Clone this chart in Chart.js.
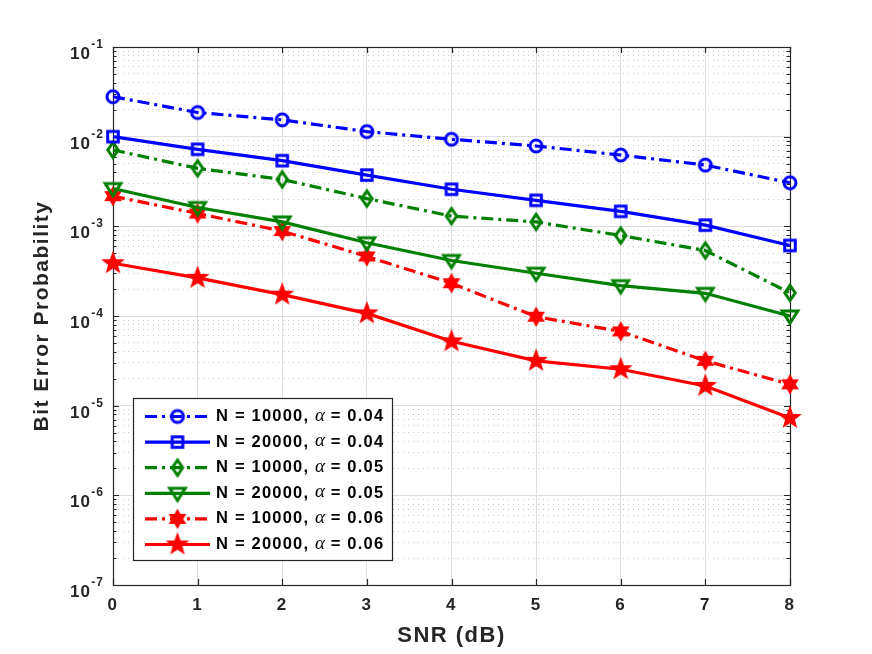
<!DOCTYPE html>
<html>
<head>
<meta charset="utf-8">
<script src="https://cdn.jsdelivr.net/npm/chart.js@4.4.1/dist/chart.umd.min.js"></script>
<style>
  html, body { margin: 0; padding: 0; background: #fff; }
  #wrap { width: 872px; height: 654px; }
</style>
</head>
<body>
<div id="wrap"><canvas id="ber" width="872" height="654"></canvas></div>
<script>
// SNR points (dB)
const snr = [0, 1, 2, 3, 4, 5, 6, 7, 8];

// bit error probability
const berN10kA004 = [0.0279, 0.0186, 0.0154, 0.0114, 0.00935, 0.00787, 0.00624, 0.00482, 0.00306];
const berN20kA004 = [0.0100, 0.00723, 0.0054, 0.00373, 0.00259, 0.00195, 0.00147, 0.00103, 0.000612];
const berN10kA005 = [0.0071, 0.00443, 0.00333, 0.00204, 0.0013, 0.00112, 0.00079, 0.000538, 0.000181];
const berN20kA005 = [0.00264, 0.00162, 0.00112, 0.000656, 0.000416, 0.0003, 0.000218, 0.000179, 0.0001];
const berN10kA006 = [0.00217, 0.00139, 0.000885, 0.000461, 0.000232, 0.0000982, 0.0000673, 0.0000316, 0.0000173];
const berN20kA006 = [0.000388, 0.000266, 0.000173, 0.000107, 0.0000522, 0.0000316, 0.0000255, 0.0000166, 0.0000073];

// legend text parts
const seriesN = ['10000', '20000', '10000', '20000', '10000', '20000'];
const seriesAlpha = ['0.04', '0.04', '0.05', '0.05', '0.06', '0.06'];

// y axis decades (exponents) and minor tick mantissas
const yExponents = [-7, -6, -5, -4, -3, -2, -1];
const yMinorMantissas = [2, 3, 4, 5, 6, 7, 8, 9];

const SANS = '"Liberation Sans", Arial, Helvetica, sans-serif';
const AXIS = '#262626';
const DASHDOT = [12, 5, 3, 5];

// marker images
function makeMarker(kind, color) {
    const c = document.createElement('canvas');
    c.width = 28; c.height = 28;
    const g = c.getContext('2d');
    g.translate(14, 14);
    g.strokeStyle = color;
    g.fillStyle = color;
    g.lineWidth = 3;
    g.beginPath();
    if (kind === 'circle') {
        g.arc(0, 0, 6, 0, Math.PI * 2);
        g.stroke();
    } else if (kind === 'square') {
        g.rect(-5.3, -5.3, 10.6, 10.6);
        g.stroke();
    } else if (kind === 'diamond') {
        g.moveTo(0, -7.6); g.lineTo(5.2, 0); g.lineTo(0, 7.6); g.lineTo(-5.2, 0);
        g.closePath();
        g.stroke();
    } else if (kind === 'triDown') {
        g.moveTo(-7.8, -5); g.lineTo(7.8, -5); g.lineTo(0, 7.2);
        g.closePath();
        g.stroke();
    } else {
        const pts = kind === 'hexagram' ? 6 : 5;
        const ro = kind === 'hexagram' ? 8.8 : 10.4;
        const ri = kind === 'hexagram' ? 5.0 : 4.3;
        for (let i = 0; i < pts * 2; i++) {
            const r = i % 2 === 0 ? ro : ri;
            const a = -Math.PI / 2 + i * Math.PI / pts;
            if (i === 0) g.moveTo(r * Math.cos(a), r * Math.sin(a));
            else g.lineTo(r * Math.cos(a), r * Math.sin(a));
        }
        g.closePath();
        g.lineWidth = 1.4;
        g.fill();
        g.stroke();
    }
    return c;
}

function series(values, color, marker, dashed) {
    return {
        data: values.map((v, i) => ({ x: snr[i], y: v })),
        borderColor: color,
        backgroundColor: color,
        borderWidth: 3.2,
        borderDash: dashed ? DASHDOT : [],
        pointStyle: makeMarker(marker, color),
        pointRadius: 8,
        tension: 0,
        clip: false
    };
}

const datasets = [
    series(berN10kA004, '#0000ff', 'circle', true),
    series(berN20kA004, '#0000ff', 'square', false),
    series(berN10kA005, '#008000', 'diamond', true),
    series(berN20kA005, '#008000', 'triDown', false),
    series(berN10kA006, '#ff0000', 'hexagram', true),
    series(berN20kA006, '#ff0000', 'pentagram', false)
];

function isDecade(v) {
    const l = Math.log10(v);
    return Math.abs(l - Math.round(l)) < 1e-6;
}

const matlabPlugin = {
    id: 'matlabBox',
    beforeUpdate(chart) { chart.ctx.letterSpacing = '1.5px'; },
    beforeDraw(chart) {
        const ctx = chart.ctx;
        ctx.letterSpacing = '1.5px';
        ctx.save();
        ctx.fillStyle = '#fff';
        ctx.fillRect(0, 0, chart.width, chart.height);
        ctx.restore();
    },
    beforeDatasetsDraw(chart) {
        const { ctx, chartArea: a, scales: { x, y } } = chart;
        ctx.save();
        ctx.strokeStyle = AXIS;
        ctx.lineWidth = 1.2;
        ctx.beginPath();
        x.ticks.forEach(t => {
            const px = Math.round(x.getPixelForValue(t.value)) + 0.5;
            ctx.moveTo(px, a.bottom); ctx.lineTo(px, a.bottom - 6);
            ctx.moveTo(px, a.top); ctx.lineTo(px, a.top + 6);
        });
        y.ticks.forEach(t => {
            const py = Math.round(y.getPixelForValue(t.value)) + 0.5;
            const len = isDecade(t.value) ? 6 : 3.5;
            ctx.moveTo(a.left, py); ctx.lineTo(a.left + len, py);
            ctx.moveTo(a.right, py); ctx.lineTo(a.right - len, py);
        });
        ctx.stroke();
        ctx.strokeRect(Math.round(a.left) + 0.5, Math.round(a.top) + 0.5,
            Math.round(a.right - a.left), Math.round(a.bottom - a.top));
        ctx.restore();
    },
    afterDatasetsDraw(chart) {
        const ctx = chart.ctx;
        const y = chart.scales.y;
        // y tick labels 10^n
        ctx.save();
        ctx.fillStyle = AXIS;
        ctx.textAlign = 'right';
        ctx.textBaseline = 'alphabetic';
        ctx.letterSpacing = '1px';
        yExponents.forEach(e => {
            const py = y.getPixelForValue(Math.pow(10, e));
            const sup = String(e);
            ctx.font = 'bold 12px ' + SANS;
            const sw = ctx.measureText(sup).width;
            ctx.fillText(sup, 104, py + 1);
            ctx.font = 'bold 17px ' + SANS;
            ctx.fillText('10', 104 - sw - 0.5, py + 12);
        });
        ctx.restore();

        // legend
        const bx = 133.5, by = 398.5, bw = 259, bh = 162;
        ctx.save();
        ctx.fillStyle = '#fff';
        ctx.fillRect(bx, by, bw, bh);
        ctx.strokeStyle = AXIS;
        ctx.lineWidth = 1.2;
        ctx.strokeRect(bx, by, bw, bh);
        chart.data.datasets.forEach((ds, i) => {
            const ry = 416.5 + i * 25.6;
            ctx.save();
            ctx.strokeStyle = ds.borderColor;
            ctx.lineWidth = 3.2;
            ctx.setLineDash(ds.borderDash);
            ctx.beginPath();
            ctx.moveTo(145, ry); ctx.lineTo(210, ry);
            ctx.stroke();
            ctx.restore();
            const img = ds.pointStyle;
            ctx.drawImage(img, 177.5 - img.width / 2, ry - img.height / 2);

            ctx.fillStyle = '#000';
            ctx.textAlign = 'left';
            ctx.textBaseline = 'middle';
            let tx = 216;
            ctx.letterSpacing = '1.2px';
            ctx.font = 'bold 16.5px ' + SANS;
            const p1 = 'N = ' + seriesN[i] + ', ';
            ctx.fillText(p1, tx, ry);
            tx += ctx.measureText(p1).width;
            ctx.letterSpacing = '0px';
            ctx.font = 'italic 19px "Liberation Serif", "Times New Roman", serif';
            ctx.fillText('\u03b1', tx, ry - 1);
            tx += ctx.measureText('\u03b1').width;
            ctx.letterSpacing = '1.2px';
            ctx.font = 'bold 16.5px ' + SANS;
            ctx.fillText(' = ' + seriesAlpha[i], tx, ry);
        });
        ctx.restore();
    }
};

Chart.defaults.font.family = SANS;
Chart.defaults.font.weight = 'bold';
Chart.defaults.color = AXIS;

new Chart(document.getElementById('ber'), {
    type: 'line',
    data: { datasets: datasets },
    options: {
        responsive: false,
        animation: false,
        layout: { padding: { top: 47, right: 82, left: 0, bottom: 0 } },
        plugins: {
            legend: { display: false },
            tooltip: { enabled: false }
        },
        scales: {
            x: {
                type: 'linear',
                min: 0,
                max: 8,
                afterFit(scale) { scale.height = 69; },
                ticks: {
                    stepSize: 1,
                    padding: 10,
                    color: AXIS,
                    font: { size: 17, weight: 'bold' }
                },
                grid: { color: '#dedede', lineWidth: 1, drawTicks: false },
                border: { display: false },
                title: {
                    display: true,
                    text: 'SNR (dB)',
                    color: AXIS,
                    font: { size: 22, weight: 'bold' },
                    padding: { top: 0, bottom: 5 }
                }
            },
            y: {
                type: 'logarithmic',
                min: 1e-7,
                max: 1e-1,
                afterFit(scale) { scale.width = 113; },
                afterBuildTicks(scale) {
                    const ticks = [];
                    yExponents.forEach(e => {
                        ticks.push({ value: Math.pow(10, e) });
                        if (e < -1) yMinorMantissas.forEach(m => ticks.push({ value: m * Math.pow(10, e) }));
                    });
                    scale.ticks = ticks;
                },
                ticks: { display: false },
                grid: {
                    drawTicks: false,
                    lineWidth: 1,
                    color: ctx => (ctx.tick && isDecade(ctx.tick.value)) ? '#dedede' : '#c6c6c6'
                },
                border: {
                    display: false,
                    dash: ctx => (ctx.tick && isDecade(ctx.tick.value)) ? [] : [1, 4]
                },
                title: {
                    display: true,
                    text: 'Bit Error Probability',
                    color: AXIS,
                    font: { size: 21, weight: 'bold' },
                    padding: { top: 30, bottom: 0 }
                }
            }
        }
    },
    plugins: [matlabPlugin]
});
</script>
</body>
</html>
